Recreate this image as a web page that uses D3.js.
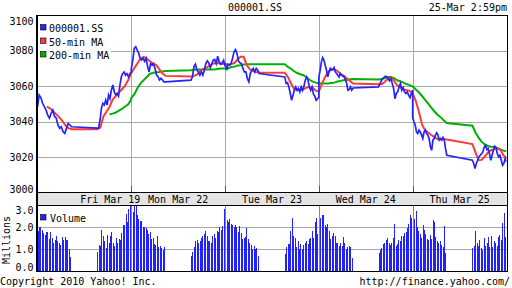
<!DOCTYPE html>
<html><head><meta charset="utf-8">
<script src="https://cdn.jsdelivr.net/npm/d3@7"></script>
<style>
html,body{margin:0;padding:0;background:#fff;}
svg{display:block;}
text{font-family:"DejaVu Sans Mono",monospace;font-size:10px;fill:#000;}
</style></head><body>
<svg id="c" width="512" height="288"></svg>
<script>
const symbol = "000001.SS";
const stamp = "25-Mar 2:59pm";
const dayLabels = ["Fri Mar 19","Mon Mar 22","Tue Mar 23","Wed Mar 24","Thu Mar 25"];
const legendLabels = ["000001.SS","50-min MA","200-min MA"];
const priceTicks = [3000,3020,3040,3060,3080,3100];
const priceGrid = [3020,3040,3060,3080];
const volTicks = [0,1,2,3];
const volGrid = [1,2];

// last trade price, per day, morning (9:30-11:30) and afternoon (13:00-15:00)
const priceAM = [
 [3048.5,3055,3053.5,3050.4,3048.5,3046.6,3043.8,3042,3044.8,3046.6,3043,3042,3038.2,3036.3,3037.2,3034.4,3033.5,3036.3,3039.1,3038.2,3037.2],
 [3070,3074.7,3081.3,3082.2,3080.2,3078.5,3075.7,3074.7,3075.7,3074,3075.7,3071,3068,3072.7,3071.8,3072.7,3070,3066.2,3065.3,3063.5,3064.4,3063.5,3062.4,3062.4],
 [3072.7,3069,3072.4,3071.8,3072.7,3075.5,3079.3,3080.6,3078.4,3074.2,3073.1,3072.7,3070,3068,3068,3064.3,3062.4,3067.1,3069,3070,3068,3070,3069,3067.1],
 [3065.2,3069,3073.7,3076.1,3074.6,3071.8,3069,3065.2,3068,3070,3069,3069.4,3070.5,3068,3067.1,3066.2,3065.2,3067.1,3066.2,3065.6,3065.2,3063.7,3061.5,3057.7,3058.1,3059.6,3057.8,3059],
 [3042.4,3040,3038.1,3034.3,3033.4,3035.3,3034.3,3032.5,3030.6,3034.3,3035.3,3033.4,3032.5,3030.6,3025.9,3024,3029.7,3030.6,3032.5,3033.8,3032.5,3029.7,3030.6,3029.7,3031.2,3029.7,3025,3021.2]
];
const pricePM = [
 [3036.5,3036.5,3041,3047.6,3050.3,3049.5,3052.2,3049.4,3055,3053,3057.9,3060.7,3056.9,3055.2,3056,3054.5,3060.6,3065.3,3067.2,3068,3066.2,3067,3065.3,3067,3068],
 [3063.4,3065.3,3071,3072.4,3069,3068,3066.2,3068,3066.2,3069,3072.7,3074.2,3073.1,3070.5,3072.4,3074.6,3075,3072.7,3076.9,3073.7,3072.4,3073.1,3074.6,3071.2],
 [3065.2,3061.5,3061.9,3059.6,3055.9,3052.1,3054.9,3057.7,3059.6,3057.7,3058.7,3056.8,3059.6,3057.7,3059.9,3063.4,3065.2,3063.4,3059.6,3057.7,3059.6,3055.5,3054.4,3052.1,3053,3053.6],
 [3059.6,3061.5,3063,3064.3,3064.9,3065.6,3065.2,3064.3,3063,3064.3,3061.5,3058.7,3053,3055.9,3056.8,3059.6,3061.5,3057.8,3059.3,3056.8,3055.9,3056.8,3055,3053.6,3055.9,3057.8],
 [3018.4,3016.6,3013.7,3016.6,3018.4,3020.3,3021.2,3022.1,3023.1,3025.9,3026.8,3024.4,3025,3022.1,3018.4,3021.2,3024,3026.3,3025.6,3022.1,3020.3,3021.2,3018.4,3015.6,3016.6,3019.4,3017.5]
];
// 50-minute moving average
const ma50AM = [
 [null,null,null,3048.5,3047.6,3046,3044.3,3042.5,3040.5,3038,3036.4,3035.8],
 [3067.5,3070.3,3072.9,3075.5,3076.5,3075.5,3074,3072.7,3072,3069.6,3067.2,3065.8],
 [3072.7,3071.8,3072.5,3073,3075,3076.5,3076.5,3071.8,3069.5,3068.6,3068,3067.7],
 [3057,3061.5,3065.2,3068,3069.5,3069.4,3068.5,3066.8,3066,3064.3,3063,3061.5],
 [3055.9,3051.7,3045.6,3038.5,3035.2,3034,3032.6,3031.5,3030.3,3030,3030.4,3030]
];
const ma50PM = [
 [3035.8,3036.8,3043,3045.6,3048.5,3052.5,3054.4,3056.5,3058.3,3060.3,3063.5,3067.5],
 [3065.4,3065.8,3066.6,3068.5,3069.7,3070.4,3071.5,3072.6,3073,3072.9,3072.5,3072.7],
 [3067.5,3065.2,3061.5,3058.5,3057.9,3057.7,3058.3,3059.2,3059.6,3059.2,3057.5,3057],
 [3061.1,3061.1,3062.5,3064.2,3064.9,3063,3060.5,3059.5,3058.1,3057.8,3057.4,3055.9],
 [3027.5,3022.8,3018.4,3018.6,3020.5,3022.7,3024,3024.5,3024.9,3024.4,3021.2,3019.4]
];
// 200-minute moving average
const ma200AM = [
 [null,null,null,null,null,null,null,null,null,null,null,null],
 [3053.5,3055.5,3059,3061.6,3063.4,3065.2,3067,3067.4,3067.9,3068,3068.3,3068.6],
 [3070,3070,3070.8,3071,3071.6,3071.8,3072.2,3072.4,3072.4,3072.4,3072.4,3072.4],
 [3061.5,3061.5,3061.5,3061.5,3061.8,3062,3062.6,3063,3063.3,3063.6,3063.9,3064],
 [3059.8,3058.2,3056.6,3054.5,3052.3,3050.2,3048,3045.8,3044,3042.6,3040.8,3039.3]
];
const ma200PM = [
 [null,null,null,null,3044.3,3044.6,3045.2,3046.3,3047.2,3048.6,3049.8,3052.5],
 [3069,3069.3,3069.4,3069.4,3069.4,3069.4,3069.4,3069.4,3069.5,3069.8,3070,3070],
 [3072.4,3070.8,3069.8,3068.4,3067.4,3066.7,3066.2,3065,3063.6,3062.6,3062,3061.5],
 [3063.8,3064,3064.6,3065.2,3065.2,3064.5,3063.3,3062.8,3062,3061.2,3060.6,3059.8],
 [3037.8,3034,3031.1,3028.7,3027.3,3026.4,3026,3025.8,3025.3,3024.5,3023.8,3023.5]
];
// 5-minute volume, millions
const volAM = [
 [1.85,2.0,2.0,1.9,1.75,1.65,1.8,1.8,1.45,1.8,1.5,1.3,1.4,1.6,1.35,1.3,1.2,1.55,1.4,1.55,1.4,1.4,1.0,0.65],
 [2.75,2.7,3.2,3.2,2.55,2.4,2.3,2.3,2.0,2.0,1.95,1.9,1.7,1.8,1.45,1.5,1.25,1.2,1.6,1.1,1.15,1.05,0.95,1.1],
 [2.3,2.35,2.25,2.4,2.15,2.1,2.0,2.1,2.0,1.8,2.05,1.75,1.45,1.5,1.55,1.95,1.45,1.3,1.2,1.0,1.15,1.0,1.05,0.7],
 [2.3,2.45,2.55,2.55,2.1,2.0,2.15,1.85,1.45,1.6,1.75,1.6,1.3,1.3,1.15,1.3,1.15,1.55,1.3,1.0,1.1,1.15,1.1,0.6],
 [2.75,2.4,2.75,2.0,1.85,1.7,1.5,2.1,1.9,1.7,1.45,1.4,1.65,1.45,2.35,2.25,1.55,1.35,1.3,1.35,1.2,1.1,2.05,0.8]
];
const volPM = [
 [0.85,1.2,1.15,1.9,1.6,1.35,1.05,1.65,1.3,1.6,1.8,1.3,1.15,1.5,1.3,1.45,1.4,1.75,2.1,2.1,2.6,2.25,2.85,3.2],
 [0.7,0.85,1.1,1.35,1.4,1.3,1.35,1.5,1.6,1.7,1.85,1.6,1.35,1.35,1.3,1.6,1.7,1.5,1.85,1.8,2.0,1.9,2.05,2.85],
 [0.75,1.1,1.25,1.25,1.85,2.45,1.6,1.5,1.1,1.35,1.0,1.25,1.0,1.2,1.3,1.35,1.25,1.45,1.5,1.85,1.5,2.25,2.45,1.7],
 [0.8,0.95,1.05,1.25,1.3,1.4,1.5,1.3,1.2,1.3,1.5,2.15,1.15,1.25,1.4,1.35,1.6,1.6,1.75,1.8,1.95,2.15,2.55,2.45],
 [1.05,1.15,1.85,1.3,1.15,1.4,1.05,0.95,1.5,1.15,1.3,1.55,1.1,1.6,1.1,1.35,1.3,1.15,1.55,1.65,1.4,2.2,2.65,1.55]
];

const DAY = 330, PM0 = 210, SES = 120; // minutes
const nDays = dayLabels.length;

const L = 37.5, R = 506.5, PT = 15, PB = 192, BAND_B = 205, VB = 271;
const x = d3.scaleLinear().domain([0, nDays*DAY]).range([L, R]);
const y = d3.scaleLinear().domain([3000, 3100]).range([193, 15]);
const yv = d3.scaleLinear().domain([0, 3]).range([270.7, 205.7]);

function series(am, pm) {
  const out = [];
  for (let d = 0; d < nDays; d++) {
    [[am[d], 0], [pm[d], PM0]].forEach(([arr, off]) => {
      arr.forEach((v, i) => out.push({t: d*DAY + off + i*SES/(arr.length-1), v}));
    });
  }
  return out;
}
function bars(am, pm) {
  const out = [];
  for (let d = 0; d < nDays; d++) {
    [[am[d], 0], [pm[d], PM0]].forEach(([arr, off]) => {
      arr.forEach((v, i) => out.push({t: d*DAY + off + i*5, v}));
    });
  }
  return out;
}

const svg = d3.select("#c");
const defs = svg.append("defs");
defs.append("clipPath").attr("id","cp").append("rect").attr("x",L).attr("y",PT).attr("width",R-L).attr("height",PB-PT);
defs.append("clipPath").attr("id","cv").append("rect").attr("x",L).attr("y",BAND_B).attr("width",R-L).attr("height",VB-BAND_B);

// header
svg.append("text").attr("x",255).attr("y",11).attr("text-anchor","middle").text(symbol);
svg.append("text").attr("x",507).attr("y",11).attr("text-anchor","end").text(stamp);

// price grid
const g = svg.append("g").attr("shape-rendering","crispEdges");
g.selectAll(".hg").data(priceGrid).join("line")
  .attr("x1",L).attr("x2",R).attr("y1",d=>Math.round(y(d))+0.5).attr("y2",d=>Math.round(y(d))+0.5)
  .attr("stroke","#aaa");
const bounds = d3.range(1, nDays).map(d => d*DAY);
g.selectAll(".vg").data(bounds).join("line")
  .attr("x1",d=>Math.round(x(d))+0.5).attr("x2",d=>Math.round(x(d))+0.5).attr("y1",PT).attr("y2",PB)
  .attr("stroke","#aaa");

// legend bg
svg.append("rect").attr("x",L+0.5).attr("y",PT+1).attr("width",73).attr("height",47).attr("fill","#fff");

// lines
const line = d3.line().defined(d=>d.v!=null).x(d=>x(d.t)).y(d=>y(d.v));
const lg = svg.append("g").attr("clip-path","url(#cp)");
const cols = {blue:"#2424ff", red:"#ff3838", green:"#00b000"};
lg.append("path").datum(series(ma200AM, ma200PM)).attr("d",line).attr("fill","none").attr("stroke",cols.green).attr("stroke-width",2);
lg.append("path").datum(series(ma50AM, ma50PM)).attr("d",line).attr("fill","none").attr("stroke",cols.red).attr("stroke-width",2);
lg.append("path").datum(series(priceAM, pricePM)).attr("d",line).attr("fill","none").attr("stroke",cols.blue).attr("stroke-width",1.7);

// legend
const legCols = [cols.blue, cols.red, cols.green];
legendLabels.forEach((t,i)=>{
  const yy = 24 + i*13.5;
  svg.append("rect").attr("x",40.5).attr("y",yy+0.5).attr("width",5.5).attr("height",5.5)
    .attr("fill",legCols[i]).attr("stroke","#000").attr("stroke-width",0.6);
  svg.append("text").attr("x",49).attr("y",yy+8).text(t);
});

// price axis labels
const ay = svg.append("g").attr("transform",`translate(${L-4},0)`)
  .call(d3.axisLeft(y).tickValues(priceTicks).tickSize(0).tickFormat(d3.format("d")));
ay.select(".domain").remove();
ay.selectAll("text").attr("font-family",null).attr("font-size",null)
  .attr("dy",null).attr("x",0).attr("y",0).attr("dominant-baseline","central");
ay.selectAll(".tick").attr("transform",d=>`translate(0,${Math.max(21.5, Math.min(189.5, y(d)))})`);

// date band
svg.append("rect").attr("x",L).attr("y",PB).attr("width",R-L).attr("height",BAND_B-PB).attr("fill","#e4e4e4");
const dayX = dayLabels.map((d,i)=> i===0 ? x(DAY) - 21 : x(i*DAY + DAY/2));
svg.selectAll(".dl").data(dayLabels).join("text")
  .attr("x",(d,i)=>dayX[i]).attr("y",202.5).attr("text-anchor","middle").text(d=>d);

// volume grid
const gv = svg.append("g").attr("shape-rendering","crispEdges");
gv.selectAll("line").data(volGrid).join("line")
  .attr("x1",L).attr("x2",R).attr("y1",d=>Math.round(yv(d))+0.5).attr("y2",d=>Math.round(yv(d))+0.5)
  .attr("stroke","#aaa");

// volume bars
svg.append("g").attr("clip-path","url(#cv)").attr("shape-rendering","crispEdges")
  .selectAll("rect").data(bars(volAM, volPM)).join("rect")
  .attr("x",d=>Math.round(x(d.t))).attr("width",1)
  .attr("y",d=>yv(d.v)).attr("height",d=>yv(0)-yv(d.v))
  .attr("fill","#2222ff");

// volume day separators
svg.append("g").attr("shape-rendering","crispEdges").selectAll("line").data(bounds).join("line")
  .attr("x1",d=>Math.round(x(d))+0.5).attr("x2",d=>Math.round(x(d))+0.5).attr("y1",BAND_B).attr("y2",VB)
  .attr("stroke","#888");
svg.append("g").attr("shape-rendering","crispEdges").selectAll("line").data(bounds).join("line")
  .attr("x1",d=>Math.round(x(d))+0.5).attr("x2",d=>Math.round(x(d))+0.5).attr("y1",PB-6).attr("y2",PB)
  .attr("stroke","#555");

// volume legend
svg.append("rect").attr("x",40.5).attr("y",214.5).attr("width",5.5).attr("height",5.5)
  .attr("fill","#2222ff").attr("stroke","#000").attr("stroke-width",0.6);
svg.append("text").attr("x",50).attr("y",222).text("Volume");

// volume axis labels
const av = svg.append("g").attr("transform",`translate(${L-4},0)`)
  .call(d3.axisLeft(yv).tickValues(volTicks).tickSize(0).tickFormat(d3.format(".1f")));
av.select(".domain").remove();
av.selectAll("text").attr("font-family",null).attr("font-size",null)
  .attr("dy",null).attr("x",0).attr("y",0).attr("dominant-baseline","central");
av.selectAll(".tick").attr("transform",d=>`translate(0,${Math.max(210, Math.min(267.5, yv(d)))})`);
svg.append("text").attr("transform","translate(10,240) rotate(-90)").attr("text-anchor","middle").text("Millions");

// frames
const fr = svg.append("g").attr("shape-rendering","crispEdges").attr("stroke","#000").attr("fill","none");
fr.append("line").attr("x1",L).attr("x2",R+0.5).attr("y1",15.5).attr("y2",15.5);
fr.append("line").attr("x1",L).attr("x2",R+0.5).attr("y1",PB+0.5).attr("y2",PB+0.5);
fr.append("line").attr("x1",L).attr("x2",R+0.5).attr("y1",BAND_B+0.5).attr("y2",BAND_B+0.5);
fr.append("line").attr("x1",L).attr("x2",R+0.5).attr("y1",VB+0.5).attr("y2",VB+0.5);
fr.append("line").attr("x1",37).attr("x2",37).attr("y1",15).attr("y2",VB+1).attr("stroke-width",2);
fr.append("line").attr("x1",R+0.5).attr("x2",R+0.5).attr("y1",15).attr("y2",VB+1);

// footer
svg.append("text").attr("x",0).attr("y",285).text("Copyright 2010 Yahoo! Inc.");
svg.append("text").attr("x",510).attr("y",285).attr("text-anchor","end").text("http://finance.yahoo.com/");
</script>
</body></html>
